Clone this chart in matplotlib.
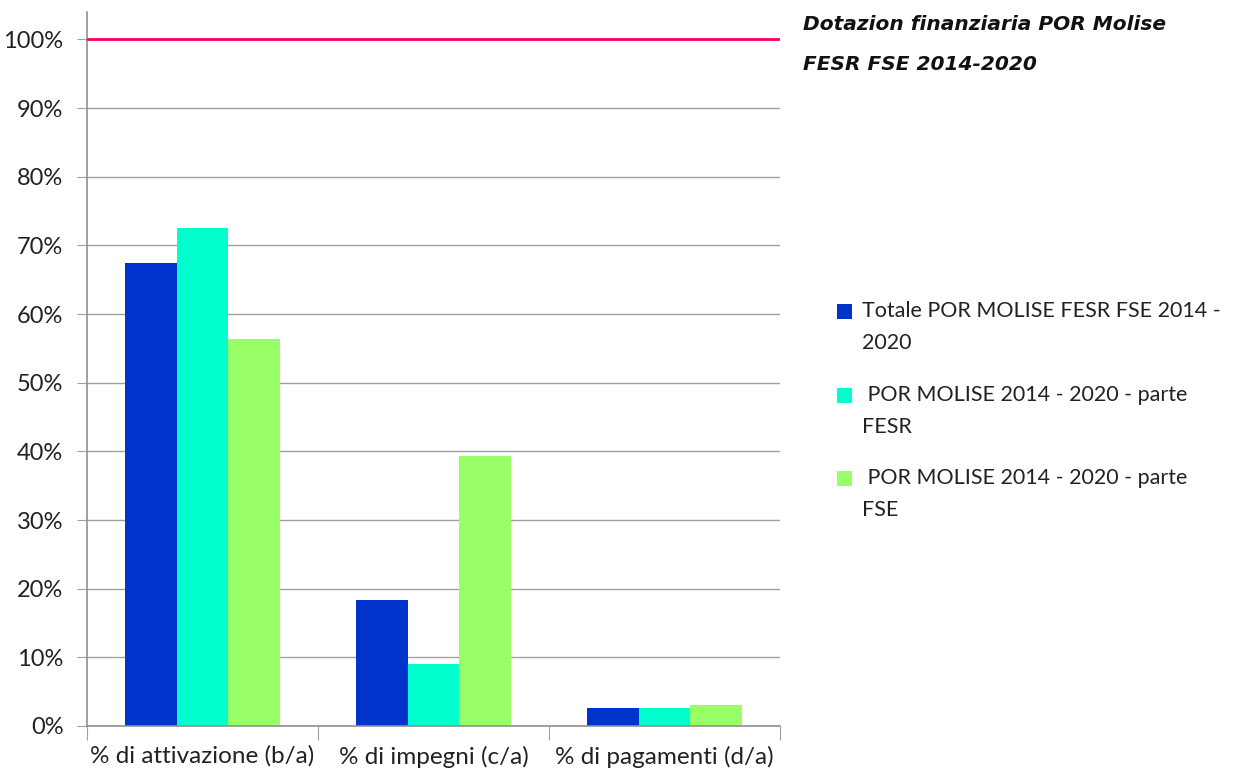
import matplotlib.pyplot as plt
import numpy as np
from matplotlib.ticker import PercentFormatter

categories = ["% di attivazione (b/a)", "% di impegni (c/a)", "% di pagamenti (d/a)"]
series_names = ["Totale POR MOLISE FESR FSE 2014 -\n2020",
                " POR MOLISE 2014 - 2020 - parte\nFESR",
                " POR MOLISE 2014 - 2020 - parte\nFSE"]
totale = [0.674, 0.184, 0.026]
fesr = [0.725, 0.090, 0.026]
fse = [0.564, 0.393, 0.030]
dotazione = [1.0, 1.0, 1.0, 1.0]
colors = ["#0033CC", "#00FFCC", "#99FF66"]

plt.rcParams['font.family'] = ['Lato', 'DejaVu Sans']

fig = plt.figure(figsize=(12.42, 7.72), dpi=100)
ax = fig.add_axes([87/1242, 46/772, 693/1242, 714/772])

x = np.arange(len(categories))
w = 0.225
for i, vals in enumerate([totale, fesr, fse]):
    ax.bar(x + (i - 1) * w, vals, w, color=colors[i], label=series_names[i], zorder=2)

# linea della dotazione finanziaria (100%)
ax.plot(np.linspace(-0.5, 2.5, len(dotazione)), dotazione, color="#FF0066", lw=2, zorder=3)

ax.set_xlim(-0.5, 2.5)
ax.set_ylim(0, 1.04)
ax.set_yticks(np.arange(0, 1.01, 0.1))
ax.yaxis.set_major_formatter(PercentFormatter(1.0, decimals=0))
ax.yaxis.grid(True, color="#A0A0A0", lw=1, zorder=0)
ax.set_axisbelow(True)

ax.set_xticks([-0.5, 0.5, 1.5, 2.5])
ax.set_xticklabels([])
ax.set_xticks(x, minor=True)
ax.set_xticklabels(categories, minor=True, fontsize=17.5, color="#222222")
ax.tick_params(axis='x', which='minor', length=0, pad=14)
ax.tick_params(axis='x', which='major', length=10, color="#A0A0A0", direction='out')
ax.tick_params(axis='y', length=7, color="#A0A0A0", labelsize=17, labelcolor="#222222", pad=10)

for s in ["top", "right"]:
    ax.spines[s].set_visible(False)
for s in ["left", "bottom"]:
    ax.spines[s].set_color("#909090")
    ax.spines[s].set_linewidth(1.2)

fig.text(803/1242, 1 - 25/772, "Dotazion finanziaria POR Molise", fontsize=14.5,
         family='DejaVu Sans', fontweight='bold', style='italic', va='center', color="#111111")
fig.text(803/1242, 1 - 65/772, "FESR FSE 2014-2020", fontsize=14.5,
         family='DejaVu Sans', fontweight='bold', style='italic', va='center', color="#111111")

leg = fig.legend(loc='upper left', bbox_to_anchor=(818/1242, 1 - 282/772), frameon=False,
                 fontsize=15.5, handlelength=0.7, handleheight=0.7, handletextpad=0.45,
                 labelspacing=1.45, labelcolor="#222222")
for t in leg.get_texts():
    t.set_linespacing(1.75)
# quadratini allineati alla prima riga del testo
for h in leg.legend_handles:
    h.set_y(h.get_y() + 11.5)

fig.savefig("out.png", dpi=100)
